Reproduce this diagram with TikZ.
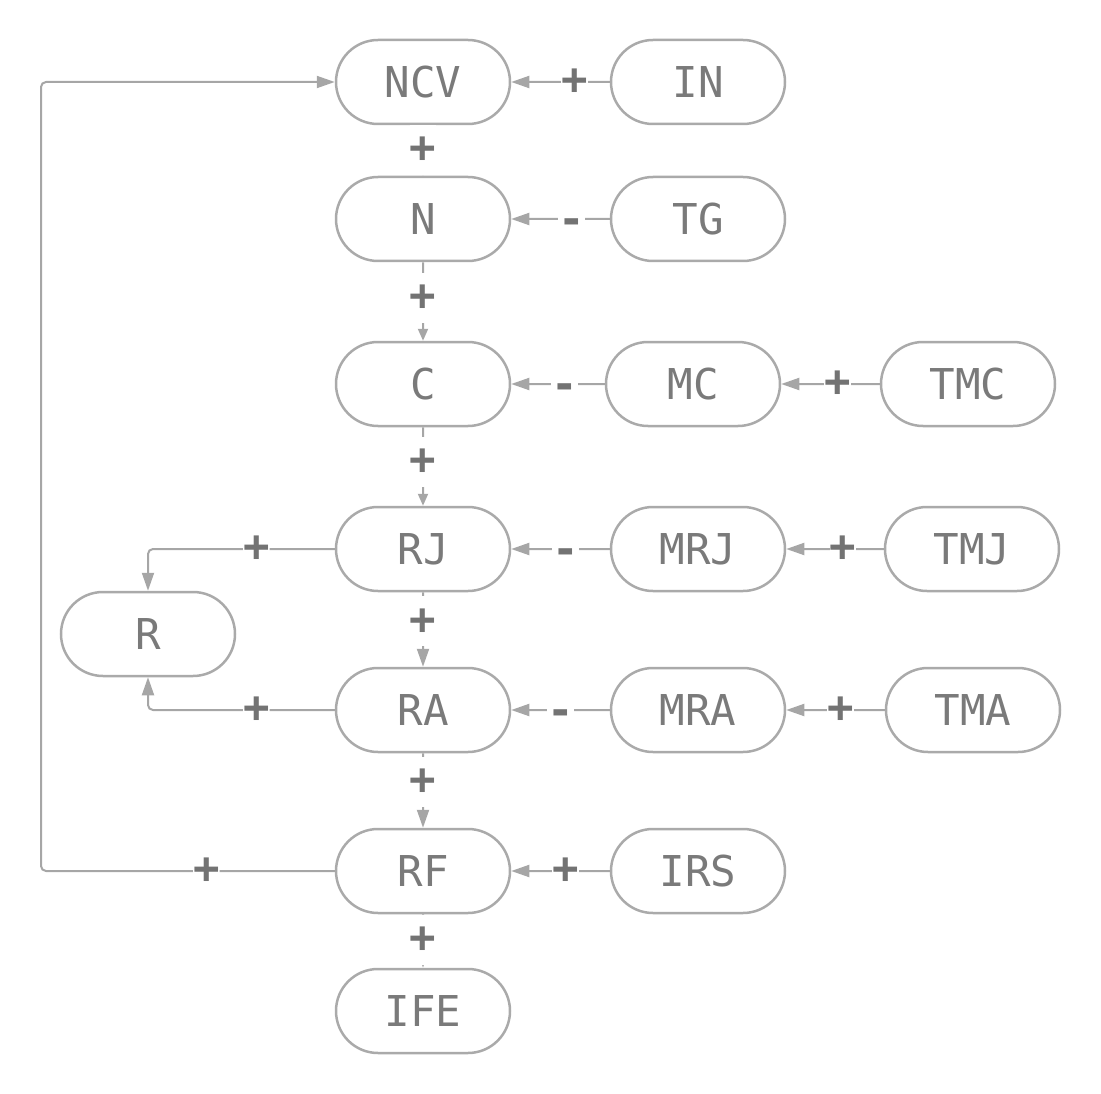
\documentclass[tikz,border=0pt]{standalone}
\usepackage{fontspec}
\setmonofont{DejaVu Sans Mono}
\usetikzlibrary{arrows.meta,shapes.misc}
\definecolor{boxc}{HTML}{AAAAAA}
\definecolor{edgec}{HTML}{A6A6A6}
\definecolor{txtc}{HTML}{7A7A7A}
\definecolor{labc}{HTML}{737373}
\begin{document}
\begin{tikzpicture}[x=1pt,y=-1pt,
  box/.style={rounded rectangle, draw=boxc, line width=2.5pt, minimum width=174pt, minimum height=84pt, inner sep=0pt, text=txtc, font=\ttfamily\fontsize{42.5}{42.5}\selectfont},
  ed/.style={draw=edgec, line width=2pt, -{Triangle[length=18pt,width=12pt]}},
  eds/.style={draw=edgec, line width=2pt, -{Triangle[length=12pt,width=10pt]}},
  lab/.style={fill=white, inner sep=0pt, minimum width=26pt, minimum height=50pt, text=labc, font=\ttfamily\bfseries\fontsize{44}{44}\selectfont},
  labm/.style={lab, yshift=-7.5pt}
]
\useasboundingbox (0,0) rectangle (1101,1094);
% nodes
\node[box] (NCV) at (423,82) {NCV};
\node[box] (IN) at (698,82) {IN};
\node[box] (N) at (423,219) {N};
\node[box] (TG) at (698,219) {TG};
\node[box] (C) at (423,384) {C};
\node[box] (MC) at (693,384) {MC};
\node[box] (TMC) at (968,384) {TMC};
\node[box] (RJ) at (423,549) {RJ};
\node[box] (MRJ) at (698,549) {MRJ};
\node[box] (TMJ) at (972,549) {TMJ};
\node[box] (R) at (148,634) {R};
\node[box] (RA) at (423,710) {RA};
\node[box] (MRA) at (698,710) {MRA};
\node[box] (TMA) at (973,710) {TMA};
\node[box] (RF) at (423,871) {RF};
\node[box] (IRS) at (698,871) {IRS};
\node[box] (IFE) at (423,1011) {IFE};
\coordinate (fb) at (41,0);
% vertical chain
\draw[ed] (NCV) -- node[lab,pos=0.49]{+} (N);
\draw[eds] (N) -- node[lab,pos=0.45]{+} (C);
\draw[eds] (C) -- node[lab,pos=0.44]{+} (RJ);
\draw[ed] (RJ) -- node[lab,pos=0.39]{+} (RA);
\draw[ed] (RA) -- node[lab,pos=0.38]{+} (RF);
\draw[ed] (RF) -- node[lab,pos=0.48]{+} (IFE);
% horizontal
\draw[ed] (IN) -- node[lab,pos=0.36]{+} (NCV);
\draw[ed] (TG) -- node[labm,pos=0.39]{-} (N);
\draw[ed] (MC) -- node[labm,pos=0.43]{-} (C);
\draw[ed] (TMC) -- node[lab,pos=0.43]{+} (MC);
\draw[ed] (MRJ) -- node[labm,pos=0.45]{-} (RJ);
\draw[ed] (TMJ) -- node[lab,pos=0.42]{+} (MRJ);
\draw[ed] (MRA) -- node[labm,pos=0.5]{-} (RA);
\draw[ed] (TMA) -- node[lab,pos=0.45]{+} (MRA);
\draw[ed] (IRS) -- node[lab,pos=0.45]{+} (RF);
% to R
\draw[ed, rounded corners=5pt] (RJ.west) -| node[lab,pos=0.21]{+} (R.north);
\draw[ed, rounded corners=5pt] (RA.west) -| node[lab,pos=0.21]{+} (R.south);
% feedback
\draw[ed, rounded corners=5pt] (RF.west) -- node[lab,pos=0.437]{+} (RF.west -| fb) |- (NCV.west);
\end{tikzpicture}
\end{document}
